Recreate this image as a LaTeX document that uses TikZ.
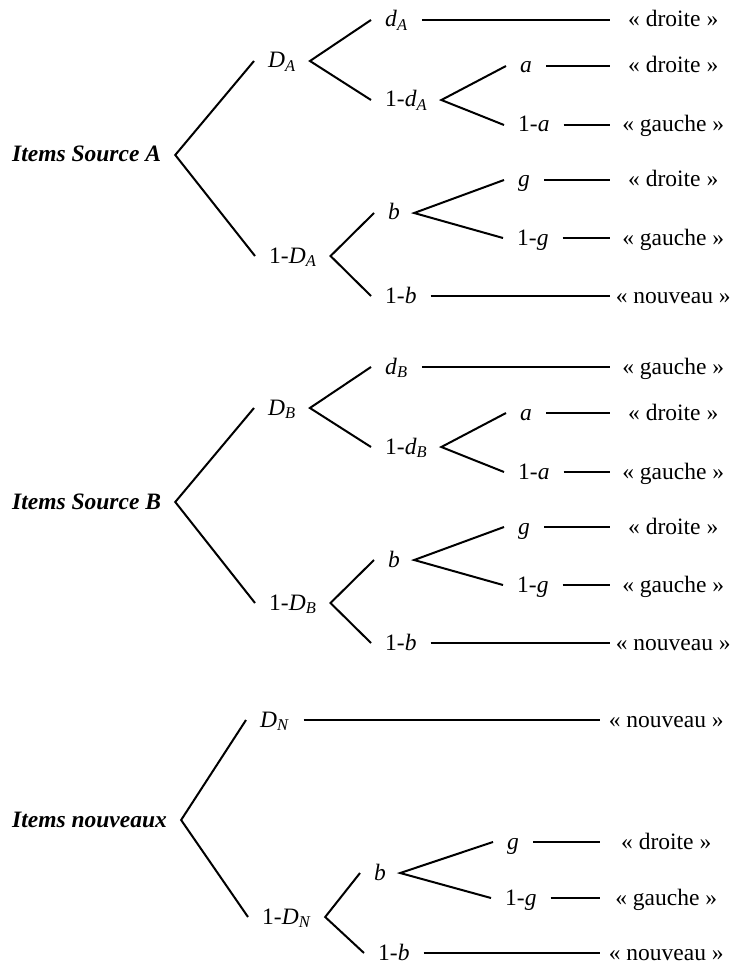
\documentclass[tikz,border=0pt]{standalone}
\usepackage{fontspec}
\setmainfont{Liberation Serif}
\newcommand\sbx[1]{\textsubscript{\textit{#1}}}
\begin{document}
\begin{tikzpicture}[x=1pt,y=-1pt,
  lbl/.style={anchor=west, inner xsep=14pt, inner ysep=0pt, text height=17pt, text depth=3pt, font=\fontsize{23.5}{26}\selectfont},
  rootlbl/.style={lbl, font=\fontsize{23.5}{26}\selectfont\bfseries\itshape},
  term/.style={anchor=west, inner xsep=0pt, inner ysep=0pt, minimum width=126pt, align=center, text height=17pt, text depth=3pt, font=\fontsize{23.5}{26}\selectfont},
  termn/.style={term, minimum width=132pt},
  br/.style={line width=2pt}]
\useasboundingbox (0,0) rectangle (737,968);
% ---------- Tree A ----------
\node[rootlbl] (rA) at (-2,155) {Items Source A};
\node[lbl] (DA) at (254,61) {\textit{D}\sbx{A}};
\node[lbl] (nDA) at (255,256) {1-\textit{D}\sbx{A}};
\node[lbl] (dA) at (371,20) {\textit{d}\sbx{A}};
\node[lbl] (ndA) at (371,100) {1-\textit{d}\sbx{A}};
\node[lbl] (aA) at (506,66) {\textit{a}};
\node[lbl] (naA) at (504,125) {1-\textit{a}};
\node[lbl] (bA) at (374,213) {\textit{b}};
\node[lbl] (gA) at (504,180) {\textit{g}};
\node[lbl] (ngA) at (503,238) {1-\textit{g}};
\node[lbl] (nbA) at (371,296) {1-\textit{b}};
\node[term] (tA1) at (610,20) {« droite »};
\node[term] (tA2) at (610,66) {« droite »};
\node[term] (tA3) at (610,125) {« gauche »};
\node[term] (tA4) at (610,180) {« droite »};
\node[term] (tA5) at (610,238) {« gauche »};
\node[term] (tA6) at (610,296) {« nouveau »};
\draw[br] (DA.west) -- (rA.east) -- (nDA.west);
\draw[br] (dA.west) -- (DA.east) -- (ndA.west);
\draw[br] (aA.west) -- (ndA.east) -- (naA.west);
\draw[br] (bA.west) -- (nDA.east) -- (nbA.west);
\draw[br] (gA.west) -- (bA.east) -- (ngA.west);
\draw[br] (dA.east) -- (tA1.west);
\draw[br] (aA.east) -- (tA2.west);
\draw[br] (naA.east) -- (tA3.west);
\draw[br] (gA.east) -- (tA4.west);
\draw[br] (ngA.east) -- (tA5.west);
\draw[br] (nbA.east) -- (tA6.west);
% ---------- Tree B ----------
\node[rootlbl] (rB) at (-2,502) {Items Source B};
\node[lbl] (DB) at (254,408) {\textit{D}\sbx{B}};
\node[lbl] (nDB) at (255,603) {1-\textit{D}\sbx{B}};
\node[lbl] (dB) at (371,367) {\textit{d}\sbx{B}};
\node[lbl] (ndB) at (371,447) {1-\textit{d}\sbx{B}};
\node[lbl] (aB) at (506,413) {\textit{a}};
\node[lbl] (naB) at (504,472) {1-\textit{a}};
\node[lbl] (bB) at (374,560) {\textit{b}};
\node[lbl] (gB) at (504,527) {\textit{g}};
\node[lbl] (ngB) at (503,585) {1-\textit{g}};
\node[lbl] (nbB) at (371,643) {1-\textit{b}};
\node[term] (tB1) at (610,367) {« gauche »};
\node[term] (tB2) at (610,413) {« droite »};
\node[term] (tB3) at (610,472) {« gauche »};
\node[term] (tB4) at (610,527) {« droite »};
\node[term] (tB5) at (610,585) {« gauche »};
\node[term] (tB6) at (610,643) {« nouveau »};
\draw[br] (DB.west) -- (rB.east) -- (nDB.west);
\draw[br] (dB.west) -- (DB.east) -- (ndB.west);
\draw[br] (aB.west) -- (ndB.east) -- (naB.west);
\draw[br] (bB.west) -- (nDB.east) -- (nbB.west);
\draw[br] (gB.west) -- (bB.east) -- (ngB.west);
\draw[br] (dB.east) -- (tB1.west);
\draw[br] (aB.east) -- (tB2.west);
\draw[br] (naB.east) -- (tB3.west);
\draw[br] (gB.east) -- (tB4.west);
\draw[br] (ngB.east) -- (tB5.west);
\draw[br] (nbB.east) -- (tB6.west);
% ---------- Tree N ----------
\node[rootlbl] (rN) at (-2,820) {Items nouveaux};
\node[lbl] (DN) at (246,720) {\textit{D}\sbx{N}};
\node[lbl] (nDN) at (248,917) {1-\textit{D}\sbx{N}};
\node[lbl] (bN) at (360,873) {\textit{b}};
\node[lbl] (gN) at (493,842) {\textit{g}};
\node[lbl] (ngN) at (491,898) {1-\textit{g}};
\node[lbl] (nbN) at (364,953) {1-\textit{b}};
\node[termn] (tN1) at (600,720) {« nouveau »};
\node[termn] (tN2) at (600,842) {« droite »};
\node[termn] (tN3) at (600,898) {« gauche »};
\node[termn] (tN4) at (600,953) {« nouveau »};
\draw[br] (DN.west) -- (rN.east) -- (nDN.west);
\draw[br] (bN.west) -- (nDN.east) -- (nbN.west);
\draw[br] (gN.west) -- (bN.east) -- (ngN.west);
\draw[br] (DN.east) -- (tN1.west);
\draw[br] (gN.east) -- (tN2.west);
\draw[br] (ngN.east) -- (tN3.west);
\draw[br] (nbN.east) -- (tN4.west);
\end{tikzpicture}
\end{document}
